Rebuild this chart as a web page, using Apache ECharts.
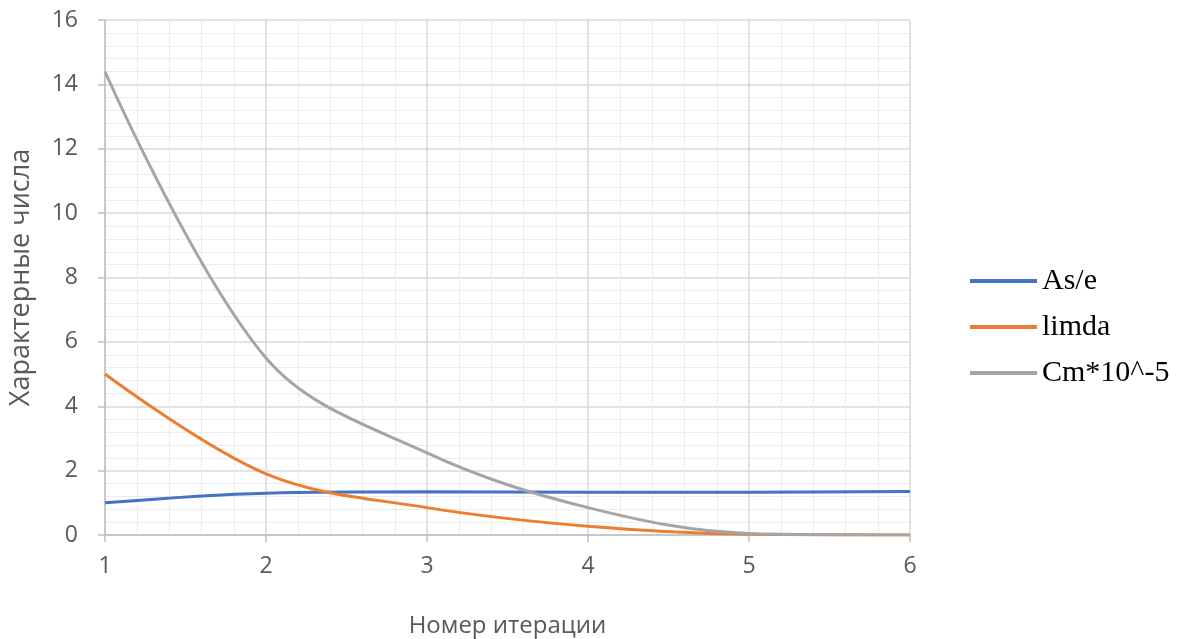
<!DOCTYPE html>
<html>
<head>
<meta charset="utf-8">
<script src="https://cdn.jsdelivr.net/npm/echarts@6/dist/echarts.min.js"></script>
<style>
  html, body { margin: 0; padding: 0; background: #fff; }
  #chart { width: 1187px; height: 639px; }
</style>
</head>
<body>
<div id="chart"></div>
<script>
// Iteration numbers and the characteristic values computed at each one
const iterations = [1, 2, 3, 4, 5, 6];
const asE = [1.0, 1.3, 1.34, 1.33, 1.33, 1.35];
const limda = [5.0, 1.9, 0.85, 0.27, 0.02, 0.0];
const cm = [14.4, 5.5, 2.55, 0.85, 0.05, 0.0];
const seriesNames = ['As/e', 'limda', 'Cm*10^-5'];
const seriesColors = ['#4472C4', '#ED7D31', '#A5A5A5'];

const pairs = (vals) => iterations.map((x, i) => [x, vals[i]]);
const allValues = [asE, limda, cm];

const labelFont = { fontFamily: 'Open Sans', fontSize: 23, color: '#595959' };
const axisGrey = '#bfbfbf';

const chart = echarts.init(document.getElementById('chart'));
chart.setOption({
  animation: false,
  backgroundColor: '#fff',
  grid: { left: 105, right: 277, top: 20, bottom: 104, outerBoundsMode: 'none', containLabel: false },
  legend: {
    orient: 'vertical',
    left: 965,
    top: 261,
    itemGap: 16,
    itemWidth: 67,
    itemHeight: 4,
    icon: 'rect',
    textStyle: { fontFamily: 'Liberation Serif', fontSize: 30, lineHeight: 30, color: '#000' },
    data: seriesNames
  },
  xAxis: {
    type: 'value',
    min: 1, max: 6, interval: 1,
    name: 'Номер итерации',
    nameLocation: 'middle',
    nameGap: 79,
    nameTextStyle: { fontFamily: 'Open Sans', fontSize: 24, color: '#595959' },
    axisLine: { show: true, lineStyle: { color: axisGrey, width: 1.5 } },
    axisTick: { show: true, length: 7, lineStyle: { color: axisGrey, width: 1.5 } },
    axisLabel: Object.assign({ margin: 20 }, labelFont),
    splitLine: { show: true, lineStyle: { color: '#d9d9d9', width: 1.5 } },
    minorTick: { show: false, splitNumber: 5 },
    minorSplitLine: { show: true, lineStyle: { color: '#ececec', width: 1 } }
  },
  yAxis: {
    type: 'value',
    min: 0, max: 16, interval: 2,
    name: 'Характерные числа',
    nameLocation: 'middle',
    nameGap: 70,
    nameTextStyle: { fontFamily: 'Open Sans', fontSize: 27, color: '#595959' },
    axisLine: { show: true, lineStyle: { color: axisGrey, width: 1.5 } },
    axisTick: { show: true, length: 7, lineStyle: { color: axisGrey, width: 1.5 } },
    axisLabel: Object.assign({ margin: 27 }, labelFont),
    splitLine: { show: true, lineStyle: { color: '#d9d9d9', width: 1.5 } },
    minorTick: { show: false, splitNumber: 5 },
    minorSplitLine: { show: true, lineStyle: { color: '#ececec', width: 1 } }
  },
  series: seriesNames.map((name, i) => ({
    name,
    type: 'line',
    data: pairs(allValues[i]),
    smooth: 0.35,
    showSymbol: false,
    symbol: 'none',
    color: seriesColors[i],
    lineStyle: { width: 3, color: seriesColors[i] },
    z: 3 + i
  }))
});
</script>
</body>
</html>
